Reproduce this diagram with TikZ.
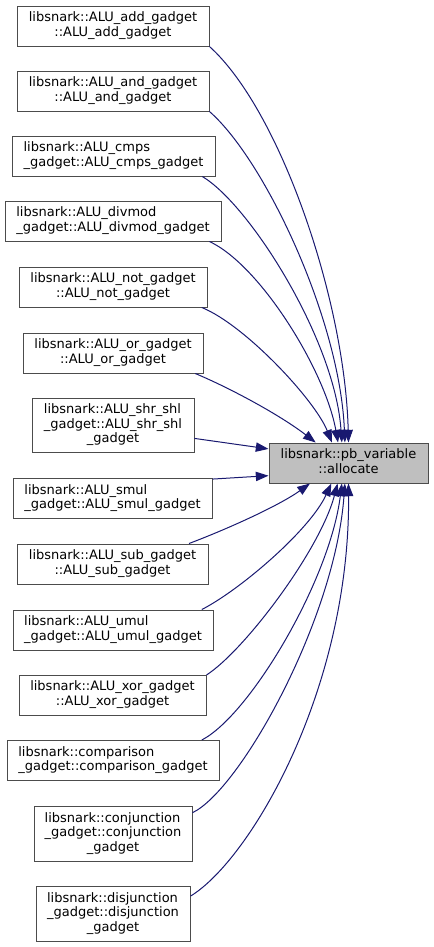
\documentclass[tikz,border=0pt]{standalone}
\usepackage{fontspec}
\setmainfont{DejaVu Sans}
\usetikzlibrary{arrows.meta}
\definecolor{edgeblue}{HTML}{191970}
\definecolor{boxgray}{HTML}{BFBFBF}
% first lines left, last line centred
\newcommand{\glabel}[2]{\begin{tabular}{@{}l@{}}#1\\\multicolumn{1}{@{}c@{}}{#2}\end{tabular}}

\begin{document}
\begin{tikzpicture}[x=0.75pt,y=-0.75pt,
          every node/.style={font=\fontsize{9.75}{10.9}\selectfont},
          fn/.style={rectangle,draw=black!70,line width=0.75pt,inner sep=0pt,minimum height=30pt,fill=white},
          tall/.style={minimum height=41pt},
          called/.style={fn,fill=boxgray},
          calls/.style={edgeblue,line width=0.75pt,-{Triangle[length=9.5pt,width=7pt]}},
        ]
        \useasboundingbox (0,0) rectangle (433,947);
        \node[called,minimum width=119.25pt] (alloc) at (348.5,463) {\glabel{libsnark::pb\_variable}{::allocate}};
        \node[fn,minimum width=144pt]    (add)    at (113,26)    {\glabel{libsnark::ALU\_add\_gadget}{::ALU\_add\_gadget}};
        \node[fn,minimum width=144pt]    (and)    at (113,91)    {\glabel{libsnark::ALU\_and\_gadget}{::ALU\_and\_gadget}};
        \node[fn,minimum width=152.25pt] (cmps)   at (113.5,156) {\glabel{libsnark::ALU\_cmps}{\_gadget::ALU\_cmps\_gadget}};
        \node[fn,minimum width=162pt]    (divmod) at (113,221)   {\glabel{libsnark::ALU\_divmod}{\_gadget::ALU\_divmod\_gadget}};
        \node[fn,minimum width=141pt]    (not)    at (113,287)   {\glabel{libsnark::ALU\_not\_gadget}{::ALU\_not\_gadget}};
        \node[fn,minimum width=135pt]    (or)     at (113,353)   {\glabel{libsnark::ALU\_or\_gadget}{::ALU\_or\_gadget}};
        \node[fn,tall,minimum width=121.5pt] (shrshl) at (113,425.5) {\glabel{libsnark::ALU\_shr\_shl\\\_gadget::ALU\_shr\_shl}{\_gadget}};
        \node[fn,minimum width=149.25pt] (smul)   at (112.5,498.5) {\glabel{libsnark::ALU\_smul}{\_gadget::ALU\_smul\_gadget}};
        \node[fn,minimum width=143.25pt] (sub)    at (112.5,564) {\glabel{libsnark::ALU\_sub\_gadget}{::ALU\_sub\_gadget}};
        \node[fn,minimum width=150pt]    (umul)   at (113,630)   {\glabel{libsnark::ALU\_umul}{\_gadget::ALU\_umul\_gadget}};
        \node[fn,minimum width=140.25pt] (xor)    at (112.5,695) {\glabel{libsnark::ALU\_xor\_gadget}{::ALU\_xor\_gadget}};
        \node[fn,minimum width=159pt]    (comp)   at (113,760.5) {\glabel{libsnark::comparison}{\_gadget::comparison\_gadget}};
        \node[fn,tall,minimum width=118.5pt] (conj) at (113,834) {\glabel{libsnark::conjunction\\\_gadget::conjunction}{\_gadget}};
        \node[fn,tall,minimum width=115.5pt] (disj) at (113,914) {\glabel{libsnark::disjunction\\\_gadget::disjunction}{\_gadget}};
        % callers above
        \draw[calls] (add.-12) .. controls (280,110) and (345,300) .. (alloc.90);
        \draw[calls] (and.-12.7) .. controls (265,160) and (340,320) .. (alloc.100);
        \draw[calls] (cmps.-13.1) .. controls (250,205) and (335,340) .. (alloc.108);
        \draw[calls] (divmod.-12.2) .. controls (260,265) and (325,370) .. (alloc.117.7);
        \draw[calls] (not.-13.1) .. controls (245,325) and (315,400) .. (alloc.129.5);
        \draw[calls] (or.-14.9) .. controls (230,388) and (280,415) .. (alloc.148.4);
        \draw[calls] (shrshl.-9.5) -- (alloc.170.7);
        \draw[calls] (smul.11.1) -- (alloc.189.3);
        % callers below
        \draw[calls] (sub.15.2) .. controls (230,528) and (280,505) .. (alloc.208.7);
        \draw[calls] (umul.13.7) .. controls (240,590) and (310,530) .. (alloc.230.5);
        \draw[calls] (xor.12.9) .. controls (245,650) and (320,550) .. (alloc.242.3);
        \draw[calls] (comp.13) .. controls (250,715) and (330,580) .. (alloc.252);
        \draw[calls] (conj.15.6) .. controls (240,790) and (335,620) .. (alloc.260);
        \draw[calls] (disj.13.9) .. controls (250,860) and (350,690) .. (alloc.270);
      \end{tikzpicture}
\end{document}
